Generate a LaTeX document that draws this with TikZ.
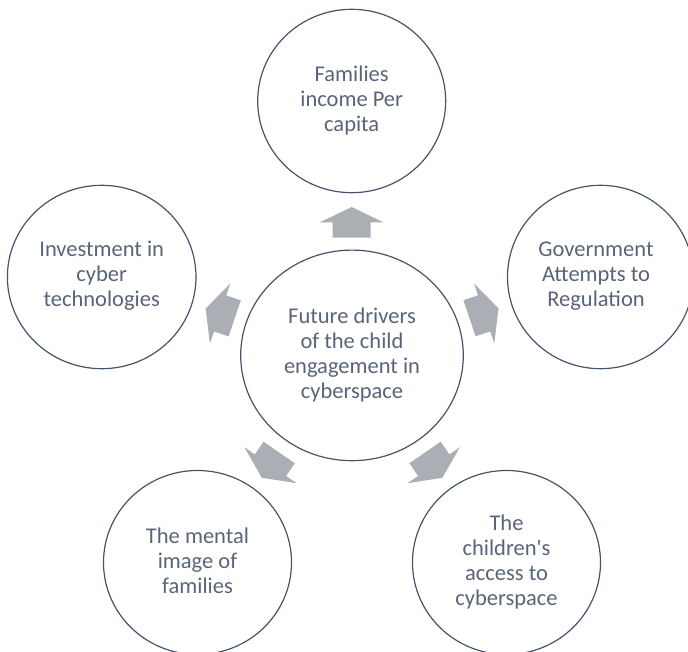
\documentclass[tikz,border=0pt]{standalone}
\usepackage{fontspec}
\setmainfont{Carlito}
\definecolor{ring}{HTML}{44546A}
\definecolor{txt}{HTML}{5A6479}
\definecolor{arrowgray}{HTML}{ABAEB5}
\begin{document}
\begin{tikzpicture}[x=1pt,y=-1pt,
  ring line/.style={draw=ring, line width=1.2pt},
  lbl/.style={text=txt, align=center, font=\fontsize{22.5}{25}\selectfont},
  blockarrow/.style={fill=arrowgray, draw=none}]
\useasboundingbox (0,0) rectangle (688,652);
% circles (drawn as ellipses with measured radii)
\draw[ring line] (352,355.4) ellipse [x radius=111.3, y radius=105.3];
\draw[ring line] (351.7,101) ellipse [x radius=94, y radius=91.7];
\draw[ring line] (101.7,277) ellipse [x radius=94.3, y radius=91.7];
\draw[ring line] (600.5,277) ellipse [x radius=93, y radius=91.7];
\draw[ring line] (197.5,562.5) ellipse [x radius=94, y radius=92];
\draw[ring line] (506.5,562.5) ellipse [x radius=94, y radius=92];
% labels
\node[lbl] (center) at (352,355.5) {Future drivers\\of the child\\engagement in\\cyberspace};
\node[lbl] (income) at (351.7,101) {Families\\income Per\\capita};
\node[lbl] (invest) at (101.7,276) {Investment in\\cyber\\technologies};
\node[lbl] (gov) at (596,276) {Government\\Attempts to\\Regulation};
\node[lbl] (mental) at (197.5,561) {The mental\\image of\\families};
\node[lbl] (access) at (506.5,561.5) {The\\children\textquotesingle s\\access to\\cyberspace};
% block arrows
\foreach \name/\bx/\by/\ang in {atop/351.7/237.7/90, aleft/234.7/318.4/161.3, aright/469.5/318.3/18.7, abl/279.2/452.5/235.5, abr/425/452.5/304.5}{
  \coordinate (\name) at (\bx,\by);
  \begin{scope}[shift={(\name)}, rotate=\ang]
    \fill[blockarrow] (0pt,-19pt) -- (15.4pt,-19pt) -- (15.4pt,-31.7pt) -- (30.7pt,0pt)
      -- (15.4pt,31.7pt) -- (15.4pt,19pt) -- (0pt,19pt) -- cycle;
  \end{scope}
}
\end{tikzpicture}
\end{document}
